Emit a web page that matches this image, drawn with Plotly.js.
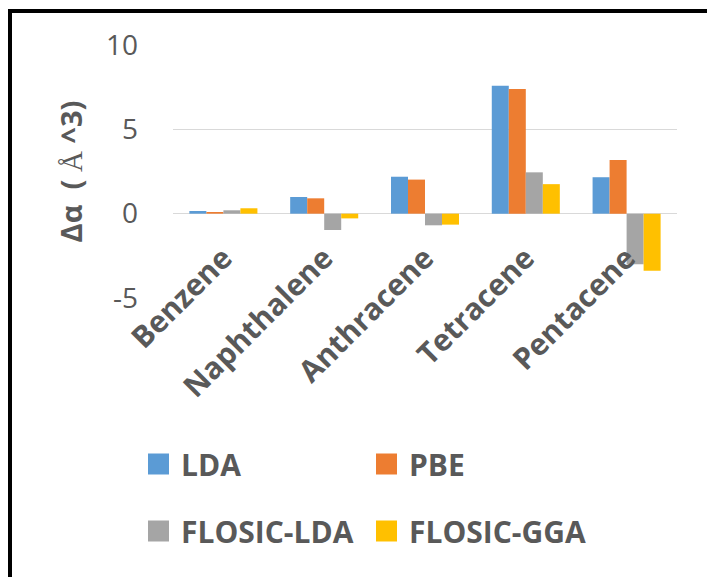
<!DOCTYPE html>
<html>
<head>
<meta charset="utf-8">
<script src="https://cdn.plot.ly/plotly-3.0.1.min.js"></script>
<style>
  html, body { margin: 0; padding: 0; background: #fff; }
  #frame { position: absolute; left: 8px; top: 9px; width: 720px; height: 600px;
           border-top: 4px solid #000; border-left: 4px solid #000; z-index: 0; }
  #chart { position: absolute; left: 0; top: 0; width: 707px; height: 577px; z-index: 1; }
</style>
</head>
<body>
<div id="frame"></div>
<div id="chart"></div>
<script>
const categories = ["Benzene", "Naphthalene", "Anthracene", "Tetracene", "Pentacene"];
const seriesNames = ["LDA", "PBE", "FLOSIC-LDA", "FLOSIC-GGA"];
const ldaValues = [0.16, 0.99, 2.19, 7.59, 2.16];
const pbeValues = [0.10, 0.91, 2.02, 7.39, 3.18];
const flosicLdaValues = [0.20, -0.97, -0.69, 2.45, -3.00];
const flosicGgaValues = [0.32, -0.28, -0.65, 1.75, -3.39];
const yTickValues = [-5, 0, 5, 10];
const yTickLabels = ["-5", "0", "5", "10"];
const colors = ["#5B9BD5", "#ED7D31", "#A5A5A5", "#FFC000"];

const W = 707, H = 577;
const L = 173, R = 30, T = 45, B = 279;
const pw = W - L - R, ph = H - T - B;
const px = v => (v - L) / pw;
const py = v => (H - B - v) / ph;

const allValues = [ldaValues, pbeValues, flosicLdaValues, flosicGgaValues];
const traces = allValues.map((vals, i) => ({
  type: "bar",
  name: seriesNames[i],
  x: categories,
  y: vals,
  marker: { color: colors[i] },
  showlegend: false,
  hoverinfo: "skip"
}));

// manual legend (square keys + labels)
const legendPos = [
  { x: 148, y: 464, tx: 179 },
  { x: 376, y: 464, tx: 407 },
  { x: 148, y: 531, tx: 179 },
  { x: 376, y: 531, tx: 407 }
];
const shapes = [];
const annotations = [];
legendPos.forEach((p, i) => {
  shapes.push({
    type: "rect", xref: "paper", yref: "paper",
    x0: px(p.x), x1: px(p.x + 21), y0: py(p.y + 10.5), y1: py(p.y - 10.5),
    fillcolor: colors[i], line: { width: 0 }
  });
  annotations.push({
    xref: "paper", yref: "paper", x: px(p.tx), y: py(p.y),
    xanchor: "left", yanchor: "middle", showarrow: false,
    text: "<b>" + seriesNames[i] + "</b>",
    font: { family: "Open Sans", size: 30, color: "#595959" }
  });
});

const layout = {
  width: W, height: H,
  margin: { l: L, r: R, t: T, b: B },
  paper_bgcolor: "rgba(0,0,0,0)",
  plot_bgcolor: "rgba(0,0,0,0)",
  barmode: "group",
  bargap: 0.325,
  bargroupgap: 0,
  showlegend: false,
  font: { family: "Open Sans", color: "#595959" },
  xaxis: {
    type: "category",
    anchor: "free",
    position: (0 - (-5)) / 15,
    showgrid: false,
    showline: false,
    ticks: "",
    tickangle: -45,
    ticklabelstandoff: 20,
    tickfont: { family: "Open Sans", size: 30, color: "#595959" },
    tickvals: categories,
    ticktext: categories.map(c => "<b>" + c + "</b>")
  },
  yaxis: {
    range: [-5, 10],
    tickvals: yTickValues,
    ticktext: yTickLabels,
    showgrid: true,
    gridcolor: "#d9d9d9",
    gridwidth: 1.5,
    zeroline: true,
    zerolinecolor: "#d9d9d9",
    zerolinewidth: 1.5,
    showline: false,
    ticks: "",
    ticklabelstandoff: 34,
    tickfont: { family: "Open Sans", size: 28, color: "#595959" },
    title: {
      text: "<b>Δα  ( </b><span style=\"font-family:'Liberation Serif'\">Å</span><b> ^3)</b>",
      font: { family: "Open Sans", size: 29, color: "#595959" },
      standoff: 14
    }
  },
  shapes: shapes,
  annotations: annotations
};

Plotly.newPlot("chart", traces, layout, { displayModeBar: false, staticPlot: true });
</script>
</body>
</html>
